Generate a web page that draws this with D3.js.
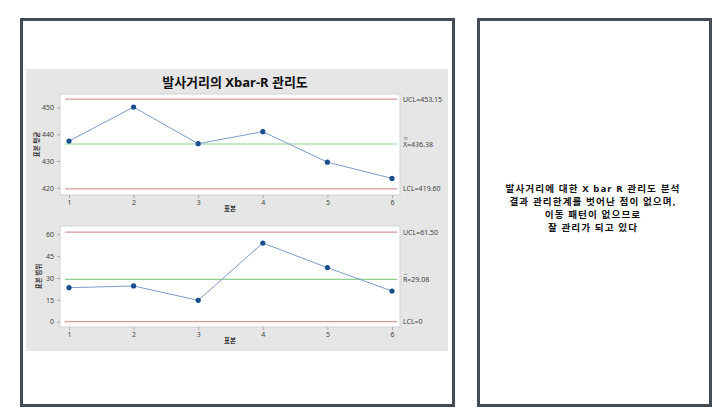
<!DOCTYPE html>
<html>
<head>
<meta charset="utf-8">
<script src="https://cdn.jsdelivr.net/npm/d3@7"></script>
<style>
  body { margin: 0; background: #ffffff; }
  svg { display: block; }
  text { font-family: "Noto Sans", "Noto Sans CJK KR", sans-serif; }
</style>
</head>
<body>
<svg id="page" width="727" height="413"></svg>
<script>
// chart values
var samples = [1, 2, 3, 4, 5, 6]
var xbarValues = [437.5, 450.2, 436.5, 441.0, 429.6, 423.5]
var rangeValues = [23.3, 24.5, 14.6, 54.0, 37.1, 21.0]
var xbarTicks = [420, 430, 440, 450]
var rangeTicks = [0, 15, 30, 45, 60]
var xbarLimits = {ucl: 453.15, center: 436.38, lcl: 419.60}
var rangeLimits = {ucl: 61.50, center: 29.08, lcl: 0}
var xbarLabels = ["UCL=453.15", "X=436.38", "LCL=419.60"]
var rangeLabels = ["UCL=61.50", "R=29.08", "LCL=0"]
var noteLines = [
  "발사거리에 대한 X bar R 관리도 분석",
  "결과 관리한계를 벗어난 점이 없으며,",
  "이동 패턴이 없으므로",
  "잘 관리가 되고 있다"
]

var svg = d3.select("#page")

// frames
svg.append("rect").attr("x", 21.5).attr("y", 19.5).attr("width", 432).attr("height", 386)
  .attr("fill", "#ffffff").attr("stroke", "#434b55").attr("stroke-width", 3)
svg.append("rect").attr("x", 478.5).attr("y", 19.5).attr("width", 232).attr("height", 386)
  .attr("fill", "#ffffff").attr("stroke", "#434b55").attr("stroke-width", 3)

// grey chart panel
svg.append("rect").attr("x", 26).attr("y", 69).attr("width", 422).attr("height", 282)
  .attr("fill", "#e6e6e6")

svg.append("text").attr("x", 235).attr("y", 87).attr("text-anchor", "middle")
  .attr("font-size", 13).attr("font-weight", "bold").attr("fill", "#111")
  .text("발사거리의 Xbar-R 관리도")

var plotLeft = 60, plotRight = 400

function drawPanel(cfg) {
  var x = d3.scaleLinear().domain([1, 6]).range([69, 392])
  var y = d3.scaleLinear().domain(cfg.domain).range([cfg.bottom, cfg.top])

  var g = svg.append("g")

  g.append("rect").attr("x", plotLeft).attr("y", cfg.top)
    .attr("width", plotRight - plotLeft).attr("height", cfg.bottom - cfg.top)
    .attr("fill", "#ffffff").attr("stroke", "#d2d2d2").attr("stroke-width", 1)

  var yAxis = d3.axisLeft(y).tickValues(cfg.ticks).tickSize(3).tickPadding(3).tickFormat(d3.format("d"))
  var xAxis = d3.axisBottom(x).tickValues(samples).tickSize(3).tickPadding(2).tickFormat(d3.format("d"))

  var ya = g.append("g").attr("transform", "translate(" + plotLeft + ",0)").call(yAxis)
  var xa = g.append("g").attr("transform", "translate(0," + cfg.bottom + ")").call(xAxis)
  ;[ya, xa].forEach(function (a) {
    a.select(".domain").remove()
    a.selectAll("line").attr("stroke", "#aaa")
    a.selectAll("text").attr("font-size", 7).attr("fill", "#444")
  })

  // limit lines
  var limitRows = [
    {v: cfg.limits.ucl, c: "#d99a9a", label: cfg.labels[0]},
    {v: cfg.limits.center, c: "#8fd08f", label: cfg.labels[1]},
    {v: cfg.limits.lcl, c: "#d99a9a", label: cfg.labels[2]}
  ]
  limitRows.forEach(function (r, i) {
    g.append("line").attr("x1", 65).attr("x2", 397)
      .attr("y1", y(r.v)).attr("y2", y(r.v))
      .attr("stroke", r.c).attr("stroke-width", 1.2)
    g.append("text").attr("x", 403).attr("y", y(r.v) + 2.5)
      .attr("font-size", 7).attr("fill", "#444").text(r.label)
    if (i === 1) {
      // bar marks over the centre symbol
      var n = cfg.doubleBar ? 2 : 1
      for (var k = 0; k < n; k++) {
        g.append("line").attr("x1", 404).attr("x2", 407.5)
          .attr("y1", y(r.v) - 5 - k * 1.5).attr("y2", y(r.v) - 5 - k * 1.5)
          .attr("stroke", "#555").attr("stroke-width", 0.5)
      }
    }
  })

  var line = d3.line().x(function (d, i) { return x(samples[i]) }).y(function (d) { return y(d) })
  g.append("path").datum(cfg.values).attr("d", line)
    .attr("fill", "none").attr("stroke", "#7b9cc6").attr("stroke-width", 1)

  g.selectAll("circle").data(cfg.values).enter().append("circle")
    .attr("cx", function (d, i) { return x(samples[i]) })
    .attr("cy", function (d) { return y(d) })
    .attr("r", 2.6).attr("fill", "#1a4f8f")

  g.append("text").attr("x", 230).attr("y", cfg.bottom + 16).attr("text-anchor", "middle")
    .attr("font-size", 6.5).attr("font-weight", "bold").attr("fill", "#333").text("표본")

  g.append("text").attr("transform", "translate(" + cfg.labelX + "," + ((cfg.top + cfg.bottom) / 2) + ") rotate(-90)")
    .attr("text-anchor", "middle").attr("font-size", 6.5).attr("font-weight", "bold")
    .attr("fill", "#333").text(cfg.yLabel)
}

drawPanel({
  top: 94, bottom: 195, domain: [417.3, 455.1], ticks: xbarTicks,
  values: xbarValues, limits: xbarLimits, labels: xbarLabels,
  doubleBar: true, yLabel: "표본 평균", labelX: 39
})
drawPanel({
  top: 226, bottom: 327, domain: [-3.7, 65.7], ticks: rangeTicks,
  values: rangeValues, limits: rangeLimits, labels: rangeLabels,
  doubleBar: false, yLabel: "표본 범위", labelX: 41
})

// note text
svg.append("g").selectAll("text").data(noteLines).enter().append("text")
  .attr("x", 593).attr("y", function (d, i) { return 191.5 + i * 13.1 })
  .attr("text-anchor", "middle").attr("font-size", 9.6).attr("font-weight", "bold")
  .attr("letter-spacing", 1.1)
  .attr("fill", "#111").text(function (d) { return d })
</script>
</body>
</html>
